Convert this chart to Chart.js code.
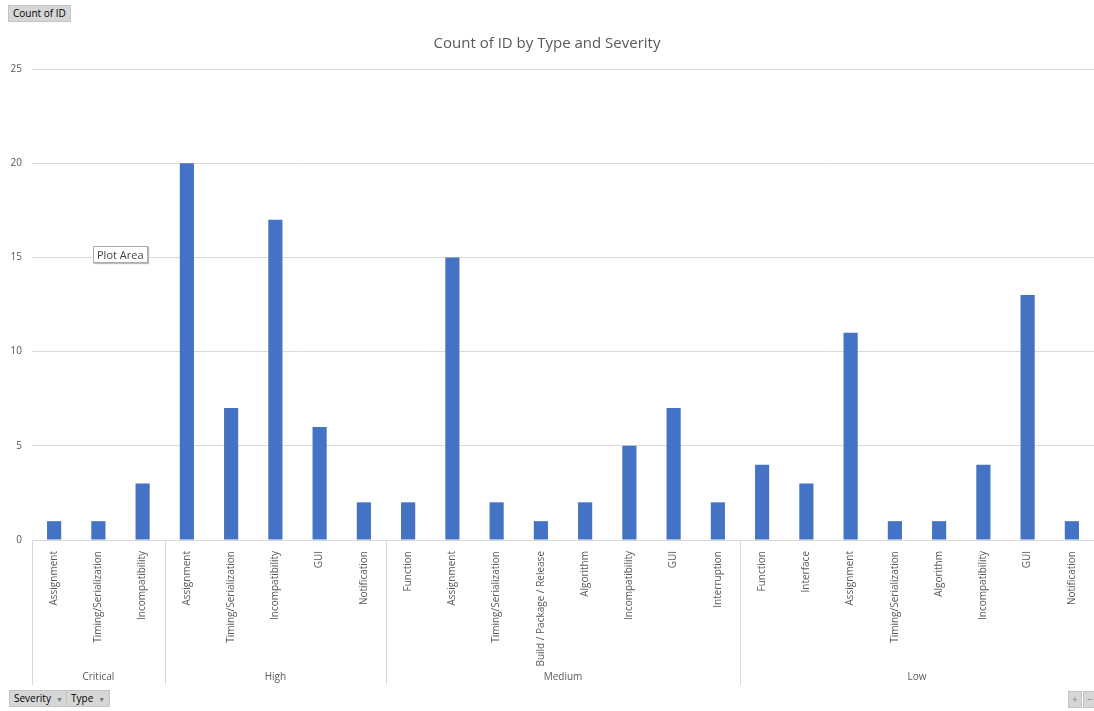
<!DOCTYPE html>
<html>
<head>
<meta charset="utf-8">
<script src="https://cdn.jsdelivr.net/npm/chart.js@4.4.1/dist/chart.umd.min.js"></script>
<style>
  html, body { margin: 0; padding: 0; background: #fff; }
  #wrap { position: relative; width: 1094px; height: 711px; overflow: hidden; }
  .btn {
    position: absolute; font: 10px "Open Sans", sans-serif; color: #000;
    background: #d6d6d6; border: 1px solid #c4c4c4; box-sizing: border-box;
    height: 17px; line-height: 15px; padding: 0 4px; white-space: nowrap;
  }
  .btn .arr { color: #777; font-size: 7px; margin-left: 5px; }
  #tip {
    position: absolute; left: 93px; top: 246px; font: 11px "Open Sans", sans-serif;
    color: #444; background: #fff; border: 1px solid #aaa; padding: 0 3px;
    line-height: 15px; box-shadow: 1px 1px 1px #bbb;
  }
</style>
</head>
<body>
<div id="wrap">
  <canvas id="chartBar" width="1094" height="711"></canvas>
  <div class="btn" style="left:8px;top:5px;">Count of ID</div>
  <div class="btn" style="left:9px;top:690px;">Severity<span class="arr">&#9660;</span></div>
  <div class="btn" style="left:66px;top:690px;">Type<span class="arr">&#9660;</span></div>
  <div class="btn" style="left:1068px;top:691px;color:#888;padding:0 3px;">+</div>
  <div class="btn" style="left:1083px;top:691px;color:#888;padding:0 3px;">&minus;</div>
  <div id="tip">Plot Area</div>
</div>
<script>
// groups (severity) and how many types each one has
const severities = ["Critical", "High", "Medium", "Low"];
const groupSizes = [3, 5, 8, 8];

const types = [
  "Assignment", "Timing/Serialization", "Incompatibility",
  "Assignment", "Timing/Serialization", "Incompatibility", "GUI", "Notification",
  "Function", "Assignment", "Timing/Serialization", "Build / Package / Release", "Algorithm", "Incompatibility", "GUI", "Interruption",
  "Function", "Interface", "Assignment", "Timing/Serialization", "Algorithm", "Incompatibility", "GUI", "Notification"
];

const counts = [
  1, 1, 3,
  20, 7, 17, 6, 2,
  2, 15, 2, 1, 2, 5, 7, 2,
  4, 3, 11, 1, 1, 4, 13, 1
];

const yTicks = [0, 5, 10, 15, 20, 25];

const textColor = "#595959";
const gridColor = "#d9d9d9";

// dibuja las lineas separadoras y el nombre de cada grupo
const groupAxis = {
  id: "groupAxis",
  afterDraw(chart) {
    const ctx = chart.ctx;
    const x = chart.scales.x;
    const area = chart.chartArea;
    const w = (x.right - x.left) / types.length;
    ctx.save();
    ctx.strokeStyle = gridColor;
    ctx.lineWidth = 1;
    ctx.fillStyle = textColor;
    ctx.font = '10px "Open Sans", sans-serif';
    ctx.textAlign = "center";
    ctx.textBaseline = "middle";
    let start = 0;
    groupSizes.forEach(function (n, i) {
      const px = Math.round(x.left + start * w) + 0.5;
      ctx.beginPath();
      ctx.moveTo(px, area.bottom);
      ctx.lineTo(px, area.bottom + 145);
      ctx.stroke();
      ctx.fillText(severities[i], x.left + (start + n / 2) * w, 677);
      start += n;
    });
    ctx.restore();
  }
};

new Chart(document.getElementById("chartBar"), {
  type: "bar",
  data: {
    labels: types,
    datasets: [{
      label: "Count of ID",
      data: counts,
      backgroundColor: "#4472C4",
      barPercentage: 0.32,
      categoryPercentage: 1
    }]
  },
  options: {
    responsive: false,
    animation: false,
    layout: { padding: { left: 0, right: 0, top: 0, bottom: 26 } },
    plugins: {
      legend: { display: false },
      tooltip: { enabled: false },
      title: {
        display: true,
        text: "Count of ID by Type and Severity",
        color: textColor,
        font: { family: "Open Sans", size: 15, weight: "normal" },
        padding: { top: 35, bottom: 16 }
      }
    },
    scales: {
      x: {
        grid: { display: false },
        border: { display: true, color: gridColor },
        ticks: {
          color: textColor,
          font: { family: "Open Sans", size: 10 },
          minRotation: 90,
          maxRotation: 90,
          autoSkip: false,
          padding: 3
        },
        afterFit: function (s) { s.height = 145; }
      },
      y: {
        min: 0,
        max: 25,
        afterBuildTicks: function (s) { s.ticks = yTicks.map(function (v) { return { value: v }; }); },
        grid: { color: gridColor, drawTicks: false },
        border: { display: false },
        ticks: {
          color: textColor,
          font: { family: "Open Sans", size: 10 },
          padding: 10
        },
        afterFit: function (s) { s.width = 32; }
      }
    }
  },
  plugins: [groupAxis]
});
</script>
</body>
</html>
